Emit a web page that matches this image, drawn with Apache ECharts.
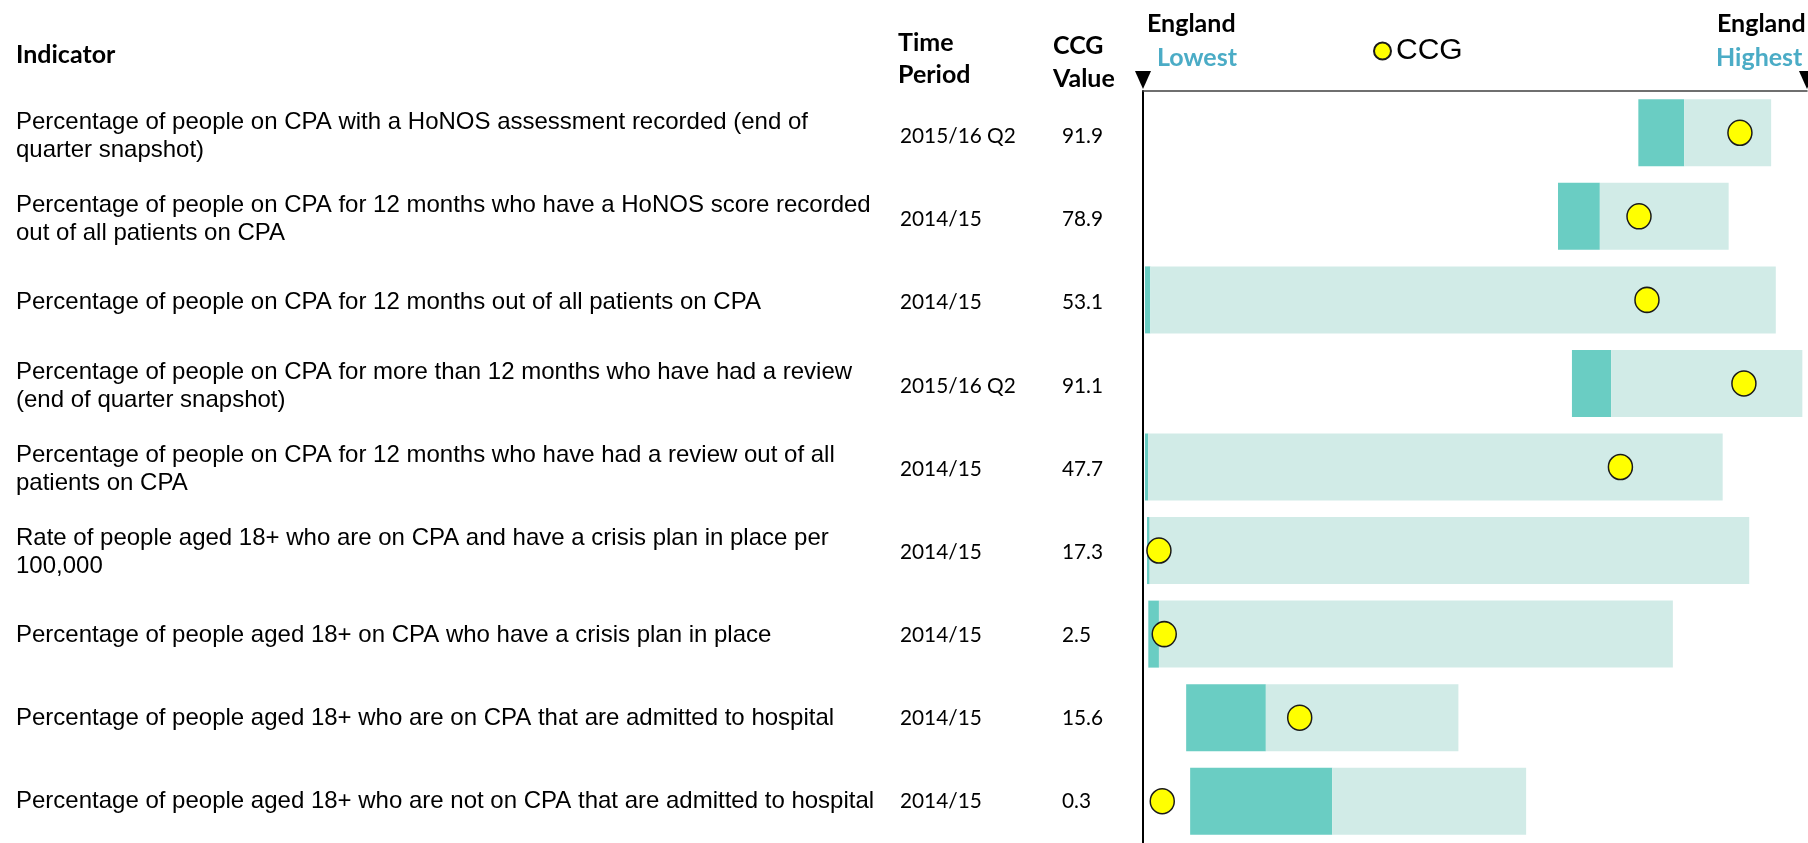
<!DOCTYPE html>
<html>
<head>
<meta charset="utf-8">
<script src="https://cdn.jsdelivr.net/npm/echarts@6/dist/echarts.min.js"></script>
<style>
  html, body { margin: 0; padding: 0; background: #ffffff; }
  #chart { width: 1808px; height: 843px; }
</style>
</head>
<body>
<div id="chart"></div>
<script>
// Indicator rows, top to bottom (line breaks as printed)
const indicators = [
  'Percentage of people on CPA with a HoNOS assessment recorded (end of\nquarter snapshot)',
  'Percentage of people on CPA for 12 months who have a HoNOS score recorded\nout of all patients on CPA',
  'Percentage of people on CPA for 12 months out of all patients on CPA',
  'Percentage of people on CPA for more than 12 months who have had a review\n(end of quarter snapshot)',
  'Percentage of people on CPA for 12 months who have had a review out of all\npatients on CPA',
  'Rate of people aged 18+ who are on CPA and have a crisis plan in place per\n100,000',
  'Percentage of people aged 18+ on CPA who have a crisis plan in place',
  'Percentage of people aged 18+ who are on CPA that are admitted to hospital',
  'Percentage of people aged 18+ who are not on CPA that are admitted to hospital'
];
const periods = ['2015/16 Q2', '2014/15', '2014/15', '2015/16 Q2', '2014/15', '2014/15', '2014/15', '2014/15', '2014/15'];
const ccgValues = ['91.9', '78.9', '53.1', '91.1', '47.7', '17.3', '2.5', '15.6', '0.3'];

// Positions on the England range scale (0 = England lowest, 100 = England highest)
const bandStart = [74.6, 62.5, 0.3, 64.6, 0.3, 0.6, 0.8, 6.5, 7.1];
const bandMid   = [81.5, 68.8, 1.1, 70.5, 0.8, 1.0, 2.4, 18.5, 28.5];
const bandEnd   = [94.6, 88.2, 95.3, 99.3, 87.3, 91.3, 79.8, 47.5, 57.7];
const ccgPos    = [89.9, 74.7, 75.9, 90.5, 71.9, 2.4, 3.2, 23.6, 2.9];

const r1 = v => Math.round(v * 10) / 10;
const offsetData = bandStart.slice();
const darkData = bandMid.map((m, i) => r1(m - bandStart[i]));
const lightData = bandEnd.map((e, i) => r1(e - bandMid[i]));
const dotData = ccgPos.map((v, i) => [v, i]);

const HEAD_FONT = 'Lato, "Open Sans", sans-serif';
const BODY_FONT = '"Liberation Sans", Arial, sans-serif';
const BLUE = '#4bacc6';

const chart = echarts.init(document.getElementById('chart'), null, { renderer: 'canvas' });

// Category axes in the text grid that only carry a text column
function columnAxis(texts, margin, font, size) {
  return {
    type: 'category',
    gridIndex: 1,
    inverse: true,
    data: texts,
    position: 'left',
    axisLine: { show: false },
    axisTick: { show: false },
    splitLine: { show: false },
    axisLabel: {
      interval: 0,
      margin: margin,
      align: 'left',
      verticalAlign: 'middle',
      fontFamily: font,
      fontSize: size,
      lineHeight: 28,
      color: '#000'
    }
  };
}

const option = {
  animation: false,
  backgroundColor: '#ffffff',
  grid: [
    { left: 1143, right: 1, top: 91, bottom: -2 },
    // text columns sit a touch lower than the bar rows
    { left: 1143, right: 1, top: 95, bottom: -6 }
  ],
  legend: {
    data: ['CCG'],
    left: 1368,
    top: 31,
    itemWidth: 17,
    itemHeight: 19,
    itemGap: 4,
    textStyle: { fontFamily: BODY_FONT, fontSize: 30, color: '#000' }
  },
  xAxis: [
    {
      type: 'value',
      position: 'top',
      min: 0,
      max: 100,
      axisLine: { show: true, lineStyle: { color: '#404040', width: 1.5 } },
      axisTick: { show: false },
      axisLabel: { show: false },
      splitLine: { show: false }
    },
    { type: 'value', gridIndex: 1, min: 0, max: 100, show: false }
  ],
  yAxis: [
    {
      type: 'category',
      inverse: true,
      data: indicators,
      position: 'left',
      axisLine: { show: true, lineStyle: { color: '#000', width: 2 } },
      axisTick: { show: false },
      splitLine: { show: false },
      axisLabel: { show: false }
    },
    columnAxis(indicators, 1127, BODY_FONT, 24),
    columnAxis(periods, 243, HEAD_FONT, 20.8),
    columnAxis(ccgValues, 81, HEAD_FONT, 20.8)
  ],
  series: [
    {
      name: 'offset',
      type: 'bar',
      stack: 'spine',
      barWidth: 67,
      silent: true,
      itemStyle: { color: 'rgba(0,0,0,0)' },
      data: offsetData
    },
    {
      name: 'England lower band',
      type: 'bar',
      stack: 'spine',
      barWidth: 67,
      itemStyle: { color: '#6acdc3' },
      data: darkData
    },
    {
      name: 'England upper band',
      type: 'bar',
      stack: 'spine',
      barWidth: 67,
      itemStyle: { color: '#d1ebe7' },
      data: lightData
    },
    {
      name: 'CCG',
      type: 'scatter',
      symbol: 'circle',
      symbolSize: [24, 25],
      z: 5,
      itemStyle: { color: '#ffff00', borderColor: '#1a1a1a', borderWidth: 1.5, opacity: 1 },
      data: dotData
    }
  ]
};

chart.setOption(option);

// Header texts and the lowest/highest markers on the top axis
const xLow = chart.convertToPixel({ xAxisIndex: 0 }, 0);
const xHigh = chart.convertToPixel({ xAxisIndex: 0 }, 100);
const headStyle = { fontFamily: HEAD_FONT, fontWeight: 'bold', fontSize: 25, fill: '#000' };
const head = (text, x, y, extra) => ({
  type: 'text', x: x, y: y,
  style: Object.assign({ text: text, verticalAlign: 'middle' }, headStyle, extra || {})
});
chart.setOption({
  graphic: [
    head('Indicator', 16, 55),
    head('Time', 898, 43),
    head('Period', 898, 75),
    head('CCG', 1053, 46),
    head('Value', 1053, 79),
    head('England', xLow + 4, 24),
    head('Lowest', xLow + 14, 58, { fill: BLUE }),
    head('England', xHigh - 90, 24),
    head('Highest', xHigh - 91, 58, { fill: BLUE }),
    { type: 'polygon', shape: { points: [[xLow - 8, 71], [xLow + 8, 71], [xLow, 89]] }, style: { fill: '#000' } },
    { type: 'polygon', shape: { points: [[xHigh - 8, 71], [xHigh + 8, 71], [xHigh, 89]] }, style: { fill: '#000' } }
  ]
});
</script>
</body>
</html>
